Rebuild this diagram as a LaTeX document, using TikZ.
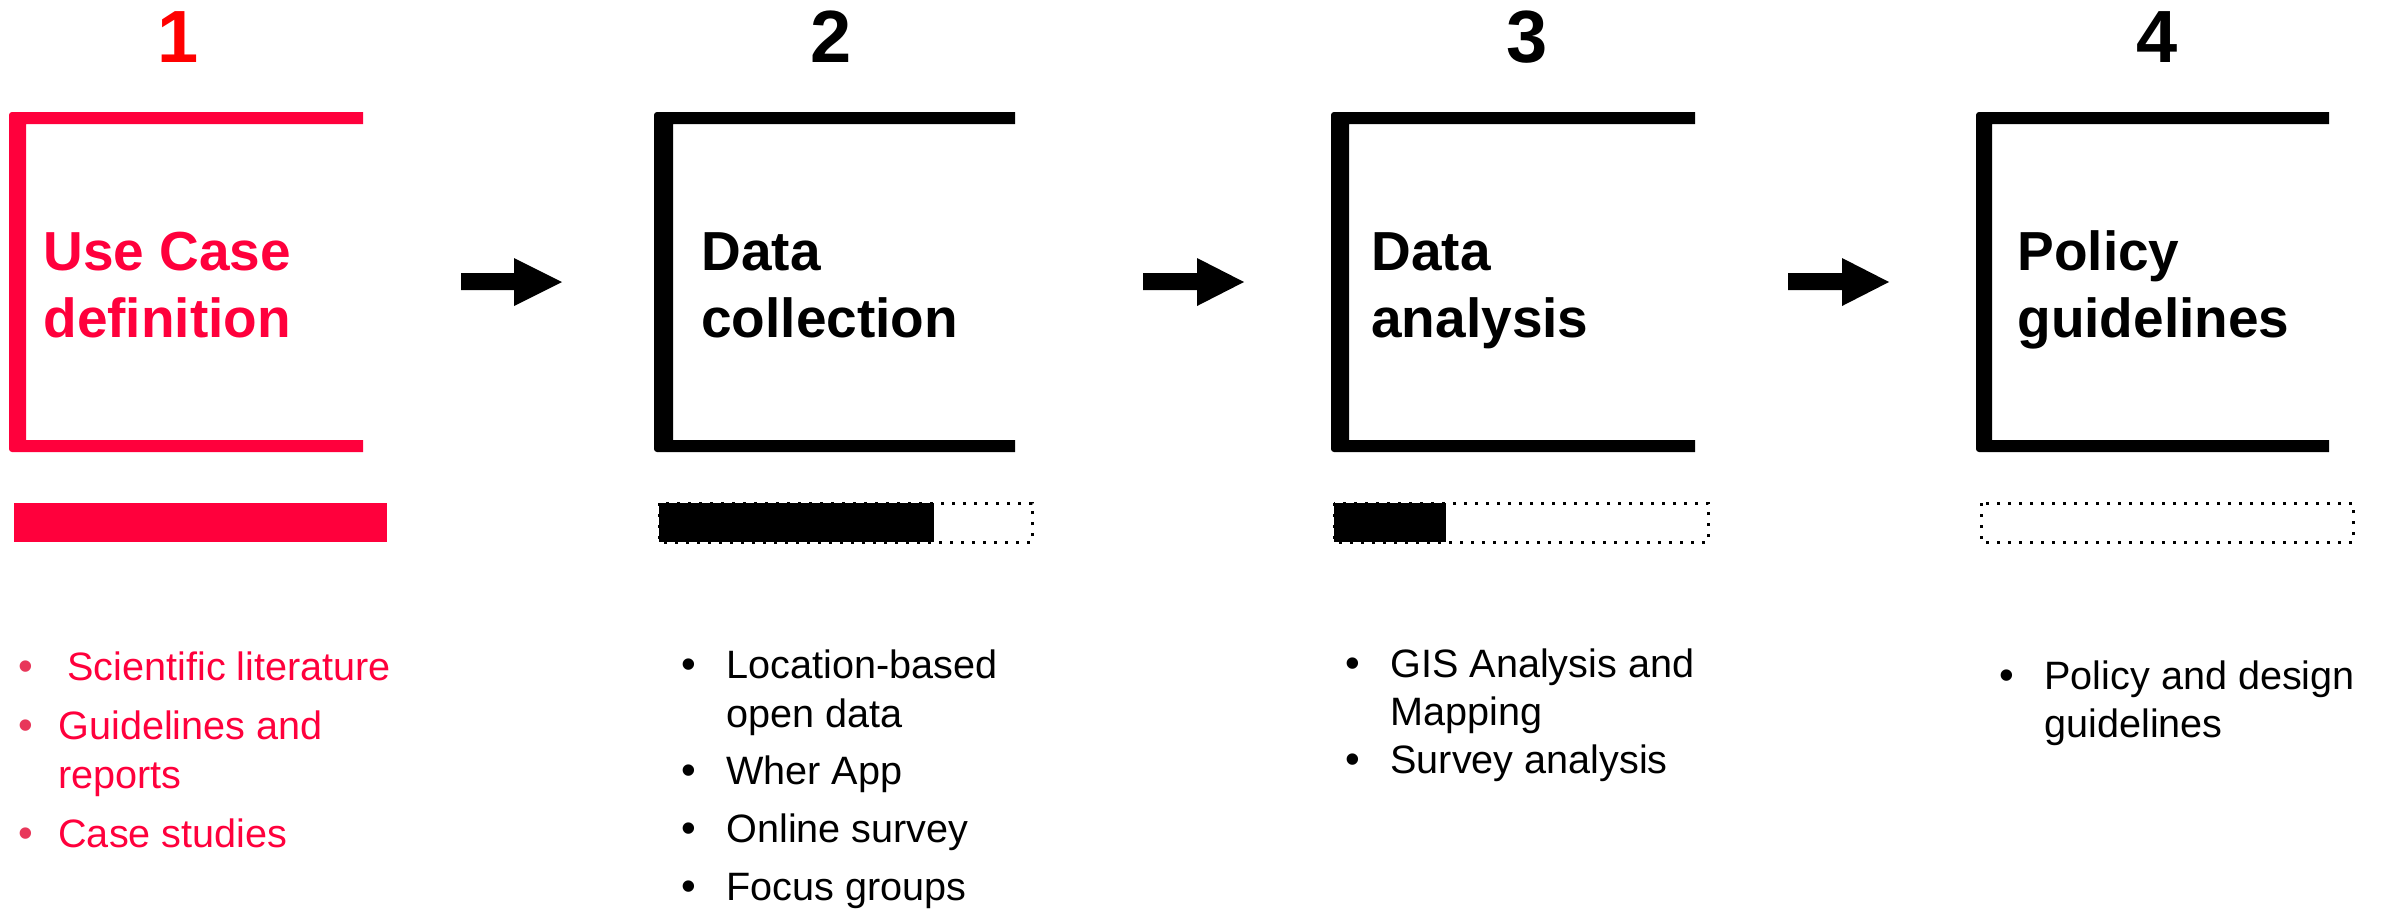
\documentclass[tikz,border=0pt]{standalone}
\usepackage{fontspec}
\setmainfont{Liberation Sans}
\definecolor{crim}{HTML}{FF003C}
\definecolor{bulred}{HTML}{E8375A}
\definecolor{numred}{HTML}{FF0000}
\newcommand{\mybracket}[4]{%
  \fill[#4] (#3,112) [rounded corners=1.5pt] -- (#1,112) -- (#1,452) [sharp corners] -- (#3,452) -- (#3,440) -- (#2,440) -- (#2,124) -- (#3,124) -- cycle;}
\newcommand{\myarrow}[3]{%
  \fill (#1,273) -- (#2,273) -- (#2,258) -- (#3,282) -- (#2,306) -- (#2,290) -- (#1,290) -- cycle;}
\tikzset{
  num/.style={font=\fontsize{37}{37}\selectfont\bfseries, anchor=base, inner sep=0pt},
  ttl/.style={font=\fontsize{27.5}{33.5}\selectfont\bfseries, anchor=base west, inner sep=0pt},
  itm/.style={font=\fontsize{19.8}{24}\selectfont, anchor=base west, inner sep=0pt},
  bul/.style={font=\fontsize{21}{24}\selectfont, anchor=base, inner sep=0pt},
  dotbox/.style={line width=1.5pt, dash pattern=on 1.5pt off 4pt},
}
\begin{document}
\begin{tikzpicture}[x=0.5pt,y=-0.5pt]
\useasboundingbox (0,0) rectangle (2387,912);
% numbers
\node[num, text=numred] (n1) at (178,62) {1};
\node[num] (n2) at (831,62) {2};
\node[num] (n3) at (1527,62) {3};
\node[num] (n4) at (2157,62) {4};
% brackets
\mybracket{9}{26}{363}{crim}
\mybracket{654}{673}{1015}{black}
\mybracket{1331}{1349}{1695}{black}
\mybracket{1976}{1992}{2329}{black}
% titles
\node[ttl, text=crim] (t1a) at (43,270) {Use Case};
\node[ttl, text=crim] (t1b) at (43,337) {definition};
\node[ttl] (t2a) at (701,270) {Data};
\node[ttl] (t2b) at (701,337) {collection};
\node[ttl] (t3a) at (1371,270) {Data};
\node[ttl] (t3b) at (1371,337) {analysis};
\node[ttl] (t4a) at (2017,270) {Policy};
\node[ttl] (t4b) at (2017,337) {guidelines};
% arrows
\myarrow{461}{514}{562}
\myarrow{1143}{1197}{1244}
\myarrow{1788}{1842}{1889}
% progress bars
\fill[crim] (14,503) rectangle (387,542);
\draw[dotbox] (659,503) rectangle (1032,542);
\fill (659,503) rectangle (934,542);
\draw[dotbox] (1334,503) rectangle (1708,542);
\fill (1334,503) rectangle (1446,542);
\draw[dotbox] (1981,503) rectangle (2353,542);
% bullets column 1
\node[bul, text=bulred] (b1a) at (26,680) {•};
\node[itm, text=crim] (i1a) at (67,680) {Scientific literature};
\node[bul, text=bulred] (b1b) at (26,739) {•};
\node[itm, text=crim] (i1b) at (58,739) {Guidelines and};
\node[itm, text=crim] (i1c) at (58,788) {reports};
\node[bul, text=bulred] (b1c) at (26,847) {•};
\node[itm, text=crim] (i1d) at (58,847) {Case studies};
% bullets column 2
\node[bul] (b2a) at (689,678) {•};
\node[itm] (i2a) at (726,678) {Location-based};
\node[itm] (i2b) at (726,727) {open data};
\node[bul] (b2b) at (689,784) {•};
\node[itm] (i2c) at (726,784) {Wher App};
\node[bul] (b2c) at (689,842) {•};
\node[itm] (i2d) at (726,842) {Online survey};
\node[bul] (b2d) at (689,900) {•};
\node[itm] (i2e) at (726,900) {Focus groups};
% bullets column 3
\node[bul] (b3a) at (1353,677) {•};
\node[itm] (i3a) at (1390,677) {GIS Analysis and};
\node[itm] (i3b) at (1390,725) {Mapping};
\node[bul] (b3b) at (1353,773) {•};
\node[itm] (i3c) at (1390,773) {Survey analysis};
% bullets column 4
\node[bul] (b4a) at (2007,689) {•};
\node[itm] (i4a) at (2044,689) {Policy and design};
\node[itm] (i4b) at (2044,737) {guidelines};
\end{tikzpicture}
\end{document}
